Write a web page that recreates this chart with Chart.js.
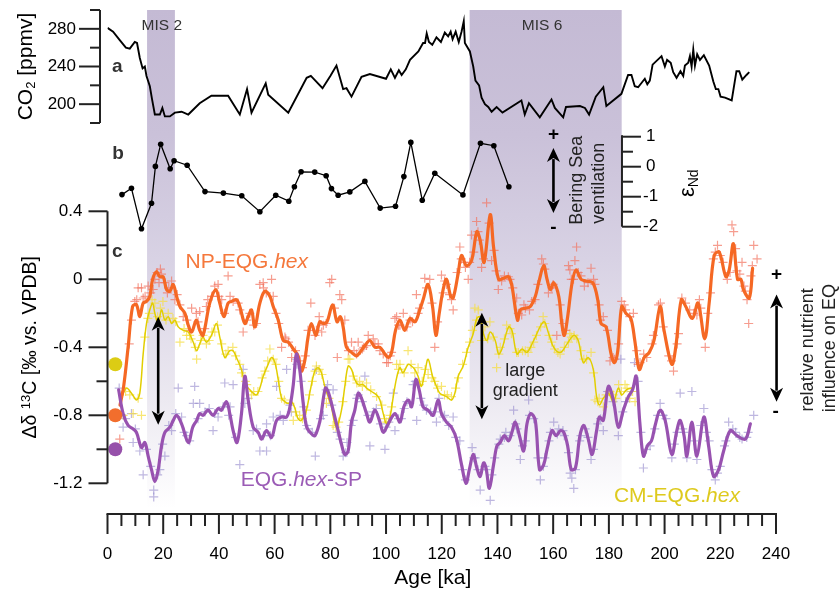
<!DOCTYPE html>
<html><head><meta charset="utf-8">
<script src="https://cdn.jsdelivr.net/npm/chart.js@4.4.1/dist/chart.umd.min.js"></script>
<style>html,body{margin:0;padding:0;background:#fff;}</style>
</head><body>
<canvas id="c" width="840" height="592"></canvas>
<script>
// ---------- DATA ----------
// Panel a: CO2 [ppmv] vs age [ka]
const co2 = [[0,281],[2,277],[4.4,268],[6.6,260],[8,259],[9.8,266],[10.6,265],[11.6,249],[12.6,238],[13.4,240],[14,230],[15.2,219],[16,205],[17,189],[18.8,189],[19.7,196],[20.6,187],[22.4,187],[24.2,191],[26.6,192],[29,189],[33.1,201],[37.3,209],[43.3,209],[47.5,189],[50.1,216],[51.7,191],[56.8,222],[57.7,210],[64.9,191],[71.5,228],[73,230],[77.2,217],[80,230],[82.2,241],[84.6,216],[85.8,217],[87.6,208],[91.2,229],[94.2,232],[100,227],[101.7,237],[103.2,228],[104.6,236],[105.6,231],[107.1,237],[108.6,247],[111.6,256],[113.3,265],[114,265],[114.6,275],[115.4,266],[116.6,263],[118.1,271],[119.7,266],[121.1,276],[122.3,272],[123.2,277],[123.9,269],[125,277],[126.1,266],[127.1,277],[127.9,288],[128.3,265],[130.1,256],[131.3,240],[132.1,225],[133.4,220],[134.3,207],[135.5,200],[136.7,197],[137.9,192],[139.7,197],[141.8,191],[148.6,204],[149.8,189],[151.3,201],[155.2,186],[159.4,205],[160.6,196],[163.6,186],[164.6,197],[169.6,198],[171.4,196],[172.9,189],[175.3,208],[178,218],[179.1,198],[184.5,211],[186.9,231],[188.1,231],[189.3,219],[190.5,218],[192.9,227],[193.8,221],[194.7,225],[195.7,242],[198.9,251],[200.1,240],[200.9,247],[202.2,244],[203.1,234],[204.3,228],[205.7,235],[206.7,230],[207.3,241],[208.5,244],[209.1,251],[209.7,240],[210.3,258],[210.9,241],[211.7,253],[212.7,247],[214.1,252],[216,241],[217.5,224],[218.4,216],[219.3,216],[220.1,208],[221.7,207],[224.1,204],[225.8,235],[226.8,235],[227.9,226],[229.4,231],[230.4,234]];
// Panel b: eps Nd
const epsNd = [[5.2,-0.93],[8.6,-0.72],[12.2,-2.07],[15.8,-1.22],[17.2,0.01],[19.1,0.75],[22.5,-0.07],[23.9,0.2],[28.6,0.05],[35.0,-0.83],[41.6,-0.88],[48.2,-0.97],[54.7,-1.5],[60.4,-0.95],[65.1,-1.15],[67.1,-0.67],[69.5,-0.17],[74.4,-0.18],[78.5,-0.3],[80.4,-0.73],[82.8,-0.95],[87.0,-0.84],[92.4,-0.49],[97.9,-1.38],[103.4,-1.32],[106.4,-0.33],[108.9,0.81],[113.0,-1.12],[117.5,-0.22],[127.6,-0.94],[133.9,0.78],[138.7,0.7],[144.1,-0.67]];
// Panel c: smoothed records
const npEqLine = [[4.5,-0.74],[5.8,-0.63],[7.4,-0.40],[9.0,-0.16],[10.4,-0.15],[11.6,-0.22],[12.8,-0.14],[14.0,-0.13],[15.2,-0.10],[16.2,0.00],[17.6,0.045],[18.8,0.015],[20.0,0.015],[21.2,-0.06],[22.4,-0.07],[23.6,-0.03],[24.8,-0.10],[26.0,-0.16],[27.8,-0.20],[29.0,-0.27],[30.2,-0.31],[31.9,-0.24],[33.1,-0.30],[34.3,-0.33],[36.7,-0.14],[38.9,-0.06],[40.3,-0.14],[41.8,-0.22],[43.3,-0.14],[44.5,-0.13],[46.3,-0.12],[47.5,-0.16],[49.3,-0.26],[50.5,-0.22],[51.7,-0.18],[52.9,-0.28],[54.7,-0.14],[56.5,-0.07],[58.3,-0.10],[59.5,-0.16],[61.3,-0.24],[63.1,-0.36],[64.9,-0.37],[66.7,-0.41],[68.4,-0.45],[69.6,-0.54],[70.8,-0.48],[72.0,-0.34],[73.2,-0.26],[74.8,-0.33],[76.2,-0.25],[77.4,-0.26],[78.8,-0.25],[80.8,-0.15],[82.4,-0.25],[83.6,-0.22],[84.6,-0.28],[85.8,-0.40],[87.6,-0.43],[89.4,-0.45],[90.6,-0.43],[92.4,-0.39],[94.2,-0.36],[96.0,-0.40],[97.8,-0.40],[99.6,-0.44],[100.8,-0.46],[102.0,-0.43],[103.4,-0.30],[105.0,-0.24],[106.7,-0.30],[108.6,-0.23],[110.4,-0.25],[112.1,-0.18],[113.3,-0.12],[115.1,-0.03],[116.7,-0.16],[117.9,-0.33],[119.1,-0.20],[120.5,-0.06],[121.7,0.00],[123.2,-0.10],[124.1,-0.11],[125.9,0.035],[127.1,0.14],[128.9,0.08],[130.7,0.11],[132.6,0.28],[133.8,0.23],[135.2,0.10],[137.4,0.38],[138.6,0.19],[140.4,0.00],[142.2,0.006],[144.0,0.015],[145.2,-0.04],[147.2,-0.24],[148.2,-0.18],[150.0,-0.17],[151.8,-0.16],[153.6,-0.10],[154.8,-0.02],[156.6,0.08],[157.8,0.00],[159.0,-0.06],[160.2,-0.02],[162.0,-0.10],[163.1,-0.26],[164.0,-0.33],[165.2,-0.22],[166.8,-0.02],[168.2,0.055],[170.0,0.00],[171.8,-0.01],[174.2,-0.02],[176.0,-0.12],[177.2,-0.26],[179.0,-0.28],[180.8,-0.44],[182.0,-0.49],[183.2,-0.42],[184.6,-0.16],[186.1,-0.20],[187.9,-0.23],[189.3,-0.36],[190.9,-0.53],[192.7,-0.46],[194.5,-0.43],[196.2,-0.36],[198.4,-0.16],[199.8,-0.30],[202.6,-0.50],[204.0,-0.40],[206.0,-0.12],[207.6,-0.16],[210.0,-0.23],[212.0,-0.14],[214.4,-0.35],[216.0,-0.14],[217.8,0.14],[219.6,0.16],[222.0,0.015],[223.2,0.055],[224.7,0.21],[226.2,0.00],[227.4,0.00],[228.3,-0.06],[230.4,-0.11],[231.6,0.065]];
const cmEqLine = [[4.6,-0.72],[5.0,-0.70],[6.8,-0.64],[8.6,-0.67],[10.4,-0.71],[11.6,-0.67],[12.8,-0.44],[14.0,-0.26],[15.2,-0.18],[16.2,-0.14],[17.0,-0.20],[18.2,-0.26],[19.4,-0.18],[20.6,-0.24],[21.8,-0.22],[23.0,-0.26],[24.2,-0.24],[25.4,-0.28],[27.2,-0.30],[29.0,-0.31],[30.8,-0.37],[32.0,-0.42],[33.1,-0.38],[34.3,-0.34],[35.5,-0.37],[37.3,-0.33],[39.1,-0.26],[40.3,-0.34],[42.1,-0.46],[43.9,-0.42],[45.1,-0.42],[46.3,-0.46],[48.1,-0.53],[49.3,-0.61],[51.1,-0.65],[52.3,-0.67],[53.5,-0.68],[54.7,-0.64],[55.9,-0.57],[57.7,-0.50],[58.9,-0.46],[60.1,-0.49],[61.3,-0.59],[62.5,-0.70],[63.7,-0.72],[64.9,-0.73],[66.1,-0.72],[67.3,-0.76],[68.4,-0.82],[69.6,-0.83],[71.4,-0.77],[72.6,-0.67],[74.4,-0.54],[75.6,-0.52],[76.8,-0.55],[78.0,-0.63],[79.2,-0.69],[80.4,-0.75],[81.6,-0.85],[82.4,-0.87],[84.0,-0.77],[85.2,-0.63],[86.4,-0.51],[87.6,-0.53],[88.8,-0.59],[90.0,-0.62],[91.8,-0.62],[93.0,-0.64],[94.8,-0.66],[96.6,-0.68],[97.8,-0.71],[99.0,-0.79],[100.2,-0.85],[101.4,-0.81],[102.6,-0.69],[103.8,-0.58],[105.0,-0.52],[106.1,-0.55],[107.9,-0.50],[109.1,-0.51],[110.3,-0.53],[111.5,-0.57],[112.7,-0.63],[113.9,-0.55],[115.1,-0.47],[116.7,-0.57],[118.1,-0.63],[119.3,-0.67],[121.7,-0.69],[123.5,-0.71],[124.7,-0.67],[125.9,-0.57],[127.7,-0.51],[129.5,-0.40],[131.3,-0.32],[132.6,-0.23],[133.8,-0.22],[135.0,-0.32],[136.2,-0.36],[137.4,-0.31],[139.2,-0.36],[140.4,-0.44],[141.6,-0.41],[144.0,-0.28],[145.2,-0.30],[147.0,-0.44],[148.8,-0.41],[150.6,-0.43],[153.0,-0.36],[156.6,-0.25],[158.4,-0.32],[160.2,-0.40],[162.6,-0.43],[165.0,-0.38],[167.4,-0.33],[169.0,-0.36],[170.8,-0.49],[172.6,-0.46],[174.4,-0.53],[175.6,-0.69],[176.6,-0.74],[178.0,-0.70],[179.8,-0.67],[181.6,-0.72],[183.4,-0.64],[184.6,-0.68],[186.3,-0.65],[188.1,-0.64]];
const eqSpLine = [[4.0,-0.65],[5.6,-0.79],[7.4,-0.86],[9.2,-0.88],[10.4,-0.90],[12.2,-0.99],[13.4,-0.96],[14.6,-1.04],[15.8,-1.12],[17.0,-1.19],[18.2,-1.12],[19.4,-0.98],[20.6,-0.90],[22.4,-0.87],[23.6,-0.83],[24.8,-0.80],[26.6,-0.85],[29.0,-0.96],[30.6,-0.87],[32.0,-0.83],[33.1,-0.79],[34.3,-0.80],[36.1,-0.77],[37.9,-0.80],[39.7,-0.76],[40.9,-0.77],[42.7,-0.72],[43.9,-0.79],[45.1,-0.89],[46.5,-0.96],[48.1,-0.79],[49.3,-0.57],[50.5,-0.71],[52.3,-0.87],[54.1,-0.90],[55.3,-0.94],[57.1,-0.89],[58.9,-0.93],[60.7,-0.83],[62.5,-0.81],[64.3,-0.81],[65.5,-0.75],[66.7,-0.62],[67.8,-0.44],[69.0,-0.53],[70.2,-0.72],[71.5,-0.87],[73.3,-0.91],[74.5,-0.92],[76.3,-0.83],[78.2,-0.64],[79.2,-0.66],[81.0,-0.77],[82.8,-0.89],[84.0,-0.97],[85.2,-1.03],[86.4,-1.01],[87.6,-0.84],[88.8,-0.77],[90.0,-0.67],[91.2,-0.70],[93.0,-0.79],[94.2,-0.84],[96.0,-0.77],[97.8,-0.84],[99.0,-0.90],[100.8,-0.85],[103.2,-0.79],[105.0,-0.84],[106.4,-0.75],[108.0,-0.71],[109.2,-0.75],[110.7,-0.59],[111.9,-0.65],[113.3,-0.75],[115.1,-0.77],[116.9,-0.80],[118.7,-0.71],[119.9,-0.79],[121.7,-0.84],[123.5,-0.87],[125.3,-0.94],[127.1,-1.09],[128.7,-1.20],[129.9,-1.12],[131.3,-1.03],[132.6,-1.11],[133.8,-1.16],[135.0,-1.08],[135.9,-1.11],[137.1,-1.23],[138.6,-1.09],[139.8,-0.98],[141.0,-0.96],[142.4,-0.92],[144.0,-0.95],[145.2,-0.90],[146.4,-0.84],[147.9,-0.92],[149.4,-1.01],[150.6,-0.85],[152.0,-0.79],[153.6,-0.83],[155.1,-1.12],[156.6,-1.09],[157.8,-1.00],[159.6,-0.89],[161.1,-0.92],[162.6,-0.89],[163.8,-0.90],[165.2,-0.98],[166.5,-1.12],[168.0,-1.11],[169.6,-0.92],[171.0,-0.86],[172.6,-0.94],[174.0,-1.03],[175.6,-0.89],[176.6,-0.81],[178.0,-0.83],[179.8,-0.63],[181.6,-0.71],[183.4,-0.87],[185.2,-0.77],[187.0,-0.69],[188.5,-0.65],[189.8,-0.57],[191.1,-0.84],[192.4,-1.04],[193.8,-0.98],[195.3,-0.95],[196.6,-0.86],[198.4,-0.77],[200.2,-0.83],[202.6,-1.03],[204.4,-0.89],[205.6,-0.83],[207.0,-0.92],[208.0,-1.04],[209.8,-0.84],[211.6,-1.04],[214.1,-0.81],[215.8,-0.98],[217.6,-1.16],[219.4,-1.12],[221.2,-1.01],[223.6,-0.89],[226.0,-0.92],[229.0,-0.94],[230.8,-0.85]];
// Panel c: individual measurements
const npEqPts = [[4.4,-0.94],[7.8,-0.38],[8.6,-0.24],[9.8,-0.13],[10.5,-0.12],[11.0,-0.05],[12.2,-0.05],[12.8,-0.11],[13.5,-0.10],[14.6,-0.04],[15.5,-0.08],[16.4,-0.06],[17.0,0.0],[17.8,0.04],[18.5,-0.02],[19.0,0.06],[19.4,0.03],[20.6,-0.02],[21.5,-0.08],[22.0,-0.05],[23.0,-0.01],[24.2,-0.12],[25.0,-0.09],[26.0,-0.15],[27.2,-0.22],[28.5,-0.24],[29.5,-0.30],[30.2,-0.17],[31.9,-0.20],[32.5,-0.25],[33.1,-0.19],[34.9,-0.29],[35.5,-0.16],[36.0,-0.12],[37.5,-0.10],[38.5,-0.04],[39.7,-0.03],[40.0,-0.10],[41.0,-0.12],[42.0,-0.20],[43.3,0.02],[44.0,-0.10],[45.1,-0.13],[46.9,-0.14],[47.5,-0.18],[48.7,-0.31],[50.0,-0.24],[51.1,-0.20],[52.5,-0.27],[53.5,-0.26],[54.7,-0.03],[55.9,-0.02],[56.0,-0.05],[57.0,-0.08],[58.9,0.0],[59.5,-0.10],[60.5,-0.20],[61.5,-0.26],[62.5,-0.40],[63.7,-0.34],[64.0,-0.35],[65.0,-0.37],[66.1,-0.46],[67.5,-0.42],[69.1,-0.48],[70.0,-0.52],[71.0,-0.45],[72.0,-0.30],[73.0,-0.14],[74.5,-0.33],[75.0,-0.30],[76.0,-0.22],[76.9,-0.31],[77.5,-0.27],[78.5,-0.26],[79.8,-0.02],[80.5,0.0],[81.5,-0.17],[82.5,-0.46],[83.4,-0.09],[84.1,-0.12],[85.2,-0.24],[86.5,-0.42],[87.6,-0.37],[88.5,-0.42],[89.4,-0.44],[90.0,-0.37],[91.5,-0.41],[92.0,-0.40],[93.0,-0.39],[93.6,-0.33],[95.4,-0.35],[96.0,-0.38],[97.2,-0.38],[97.8,-0.42],[99.0,-0.44],[100.2,-0.49],[100.8,-0.49],[101.5,-0.45],[102.0,-0.43],[103.2,-0.23],[103.8,-0.22],[104.5,-0.27],[105.0,-0.27],[106.2,-0.20],[107.5,-0.28],[108.6,-0.24],[109.5,-0.25],[110.9,-0.09],[111.5,-0.20],[112.0,-0.17],[113.9,0.006],[114.5,-0.05],[115.7,0.0],[116.5,-0.14],[117.5,-0.40],[118.5,-0.25],[119.9,0.025],[120.5,-0.08],[121.0,-0.01],[121.7,-0.03],[122.8,-0.09],[123.5,-0.12],[124.1,-0.18],[125.5,0.04],[126.5,0.19],[127.0,0.12],[128.0,0.10],[128.5,0.07],[129.5,0.0],[130.0,0.10],[130.7,0.26],[131.5,0.16],[132.5,0.34],[133.0,0.28],[133.5,0.23],[134.3,0.07],[135.0,0.12],[136.1,0.45],[137.0,0.33],[137.9,0.11],[138.8,0.17],[139.5,0.05],[140.3,-0.06],[141.5,-0.01],[142.5,0.02],[143.9,0.015],[144.5,0.0],[145.5,-0.05],[146.9,-0.11],[147.5,-0.20],[148.7,-0.21],[149.5,-0.15],[150.0,-0.17],[151.5,-0.18],[152.3,-0.13],[153.5,-0.12],[154.5,-0.03],[155.9,0.12],[156.5,0.09],[157.0,0.06],[158.3,-0.08],[159.5,-0.05],[160.0,-0.03],[161.3,-0.33],[162.5,-0.15],[163.5,-0.26],[164.5,-0.30],[165.5,0.08],[166.0,0.055],[166.5,0.00],[167.3,0.0],[167.8,0.11],[168.4,0.19],[169.0,0.04],[170.0,0.02],[171.2,-0.04],[172.5,-0.02],[173.6,0.065],[174.5,0.00],[175.0,-0.03],[176.5,-0.15],[177.0,-0.24],[178.0,-0.22],[179.5,-0.30],[180.4,-0.48],[181.5,-0.46],[182.0,-0.47],[183.5,-0.38],[184.6,-0.13],[185.5,-0.15],[186.0,-0.18],[187.5,-0.22],[188.8,-0.20],[190.0,-0.42],[190.5,-0.50],[191.2,-0.49],[192.5,-0.44],[193.6,-0.46],[195.5,-0.38],[196.0,-0.33],[197.8,-0.15],[198.5,-0.14],[199.5,-0.28],[201.5,-0.45],[202.5,-0.48],[203.2,-0.54],[204.5,-0.38],[205.0,-0.32],[206.2,-0.11],[207.5,-0.14],[209.0,-0.18],[210.5,-0.20],[211.6,-0.21],[212.5,-0.12],[213.0,-0.17],[214.6,-0.40],[215.5,-0.20],[216.5,-0.08],[217.5,0.12],[218.2,0.16],[219.0,0.20],[220.0,0.14],[221.0,0.10],[222.5,0.00],[223.5,0.04],[224.2,0.32],[224.8,0.28],[225.5,0.18],[226.0,0.05],[227.0,0.03],[227.8,0.10],[228.5,-0.04],[229.0,-0.07],[229.6,-0.12],[230.2,-0.26],[231.0,0.02],[231.5,0.08],[232.0,0.20],[233.2,0.12]];
const cmEqPts = [[5.6,-0.80],[6.5,-0.66],[8.0,-0.68],[9.2,-0.79],[11.0,-0.70],[12.2,-0.80],[13.4,-0.34],[14.5,-0.23],[15.0,-0.20],[16.0,-0.12],[17.0,-0.14],[18.0,-0.22],[19.0,-0.17],[19.9,-0.13],[21.0,-0.24],[21.8,-0.20],[23.5,-0.23],[24.5,-0.25],[26.0,-0.37],[27.5,-0.29],[28.4,-0.33],[29.5,-0.33],[30.0,-0.35],[31.5,-0.40],[32.0,-0.47],[33.5,-0.36],[34.3,-0.33],[35.5,-0.38],[36.5,-0.36],[37.5,-0.31],[38.5,-0.31],[39.5,-0.27],[41.0,-0.38],[42.5,-0.44],[43.3,-0.42],[45.0,-0.40],[46.0,-0.45],[47.5,-0.50],[48.1,-0.55],[49.5,-0.60],[50.0,-0.62],[51.7,-0.68],[52.5,-0.66],[54.0,-0.66],[55.5,-0.58],[56.5,-0.54],[57.5,-0.48],[58.3,-0.41],[59.5,-0.47],[60.5,-0.50],[61.5,-0.60],[62.5,-0.70],[63.5,-0.71],[65.5,-0.73],[66.7,-0.83],[67.5,-0.78],[69.0,-0.80],[70.0,-0.82],[71.4,-0.77],[72.5,-0.68],[73.5,-0.60],[74.5,-0.54],[75.0,-0.51],[76.0,-0.53],[77.0,-0.56],[78.6,-0.73],[79.5,-0.70],[81.0,-0.86],[82.0,-0.87],[83.0,-0.84],[84.5,-0.72],[85.5,-0.60],[86.4,-0.47],[87.0,-0.47],[88.2,-0.57],[89.5,-0.61],[90.5,-0.60],[91.5,-0.63],[93.0,-0.61],[94.5,-0.65],[96.6,-0.69],[98.5,-0.74],[99.5,-0.82],[100.2,-0.84],[101.5,-0.80],[102.0,-0.75],[103.8,-0.50],[104.5,-0.53],[105.0,-0.50],[106.5,-0.55],[107.9,-0.42],[109.0,-0.50],[110.3,-0.55],[111.5,-0.52],[112.0,-0.62],[113.0,-0.60],[114.0,-0.53],[115.1,-0.56],[116.5,-0.58],[117.5,-0.60],[118.5,-0.64],[119.9,-0.63],[121.0,-0.68],[122.0,-0.68],[123.5,-0.69],[125.0,-0.64],[126.0,-0.58],[127.5,-0.50],[128.9,-0.43],[130.0,-0.37],[131.0,-0.30],[131.9,-0.17],[132.5,-0.24],[133.1,-0.18],[134.0,-0.24],[134.3,-0.36],[135.5,-0.28],[136.5,-0.35],[137.3,-0.25],[138.5,-0.34],[139.7,-0.52],[140.5,-0.44],[141.0,-0.40],[142.5,-0.35],[143.3,-0.27],[144.5,-0.29],[145.0,-0.32],[146.9,-0.43],[147.5,-0.43],[149.0,-0.42],[150.0,-0.42],[151.0,-0.43],[152.0,-0.40],[153.0,-0.37],[154.0,-0.33],[155.5,-0.28],[156.4,-0.22],[157.0,-0.26],[158.5,-0.33],[159.5,-0.37],[160.5,-0.41],[161.7,-0.43],[162.5,-0.44],[164.0,-0.40],[165.5,-0.37],[166.0,-0.32],[166.5,-0.34],[167.5,-0.33],[168.5,-0.35],[170.0,-0.42],[171.0,-0.47],[172.0,-0.47],[173.6,-0.43],[174.5,-0.55],[175.0,-0.71],[176.0,-0.72],[176.5,-0.70],[178.0,-0.75],[179.0,-0.68],[180.4,-0.66],[181.6,-0.68],[182.5,-0.70],[183.5,-0.62],[184.5,-0.66],[185.8,-0.62],[186.5,-0.64],[187.5,-0.70],[188.5,-0.66],[189.4,-0.72]];
const eqSpPts = [[4.2,-0.64],[5.6,-0.87],[6.5,-0.82],[8.6,-0.79],[9.2,-0.96],[10.0,-0.88],[11.6,-1.01],[12.8,-1.15],[14.0,-1.00],[15.5,-1.10],[16.6,-1.24],[16.6,-1.28],[18.0,-1.15],[18.8,-1.12],[19.8,-0.97],[20.6,-1.04],[22.0,-0.86],[23.0,-0.89],[24.5,-0.79],[25.4,-0.64],[26.6,-0.81],[27.5,-0.90],[28.4,-0.92],[29.5,-0.95],[30.8,-0.73],[31.3,-0.63],[32.5,-0.82],[33.1,-0.73],[35.0,-0.78],[36.5,-0.76],[37.9,-0.89],[38.5,-0.79],[39.7,-0.81],[41.5,-0.75],[42.1,-0.61],[43.5,-0.80],[44.0,-0.75],[45.1,-0.62],[46.0,-0.93],[47.5,-1.09],[48.7,-0.53],[49.3,-0.73],[50.5,-0.70],[52.3,-0.89],[53.5,-0.88],[54.7,-1.01],[56.0,-0.92],[57.1,-0.85],[57.1,-1.01],[58.5,-0.92],[59.5,-0.81],[60.7,-0.63],[62.0,-0.80],[63.1,-0.83],[64.3,-0.53],[65.5,-0.74],[66.0,-0.78],[67.5,-0.47],[68.0,-0.50],[69.5,-0.60],[70.5,-0.75],[71.5,-0.86],[72.0,-0.88],[73.5,-0.90],[74.6,-1.04],[75.0,-0.53],[76.5,-0.82],[77.5,-0.80],[78.5,-0.65],[79.0,-0.62],[80.5,-0.74],[81.0,-0.65],[82.5,-0.90],[83.5,-0.94],[84.6,-1.04],[85.5,-1.02],[86.0,-0.96],[87.5,-0.86],[88.2,-0.83],[89.5,-0.70],[90.0,-0.68],[91.5,-0.72],[92.4,-0.57],[93.5,-0.80],[94.2,-0.98],[95.5,-0.78],[96.5,-0.76],[98.0,-0.85],[99.6,-1.00],[100.0,-0.87],[101.0,-0.84],[102.6,-0.67],[103.2,-0.89],[104.5,-0.82],[105.5,-0.82],[106.5,-0.76],[107.5,-0.72],[108.5,-0.73],[109.7,-0.62],[110.5,-0.60],[111.0,-0.83],[112.5,-0.70],[113.5,-0.74],[114.5,-0.77],[116.0,-0.78],[117.5,-0.78],[118.1,-0.84],[119.0,-0.70],[120.5,-0.81],[121.0,-0.80],[122.5,-0.86],[124.1,-0.81],[125.0,-0.93],[126.5,-0.95],[127.5,-1.12],[128.5,-1.18],[129.7,-1.43],[130.9,-0.99],[131.5,-1.05],[132.0,-1.05],[133.0,-1.12],[133.8,-1.24],[135.5,-1.10],[136.0,-1.12],[137.4,-1.30],[138.0,-1.15],[139.0,-1.05],[140.5,-0.97],[141.0,-0.94],[142.5,-0.93],[143.0,-0.90],[144.5,-0.92],[145.8,-0.77],[146.5,-0.85],[147.0,-0.88],[148.2,-1.06],[149.0,-0.98],[150.0,-0.95],[151.2,-0.71],[151.5,-0.80],[153.0,-0.82],[154.5,-1.05],[155.4,-1.18],[156.5,-1.10],[157.0,-1.05],[158.5,-0.95],[159.0,-0.90],[160.2,-0.84],[161.5,-0.91],[162.0,-0.88],[163.5,-0.89],[164.0,-0.92],[165.5,-1.02],[166.1,-1.14],[166.7,-1.17],[167.4,-1.23],[168.0,-1.12],[169.5,-0.95],[170.0,-0.92],[171.5,-0.88],[172.5,-0.93],[173.6,-1.06],[174.5,-1.00],[176.0,-0.85],[177.0,-0.82],[178.0,-0.89],[179.5,-0.66],[180.0,-0.66],[181.5,-0.72],[183.4,-0.92],[184.3,-0.47],[185.0,-0.78],[186.0,-0.72],[188.0,-0.66],[189.2,-0.49],[190.5,-0.60],[191.5,-0.90],[192.4,-1.11],[193.5,-1.00],[194.8,-0.98],[196.5,-0.88],[197.5,-0.80],[198.4,-0.73],[199.5,-0.80],[200.5,-0.82],[202.6,-1.05],[203.5,-0.97],[204.5,-0.90],[205.6,-0.67],[206.5,-0.88],[207.0,-0.90],[208.0,-1.05],[209.8,-0.66],[210.5,-0.95],[211.6,-1.06],[213.0,-0.86],[214.1,-0.76],[215.0,-0.90],[216.0,-0.95],[217.0,-1.12],[218.2,-1.18],[219.0,-1.14],[220.0,-1.10],[221.5,-0.98],[222.0,-0.95],[223.0,-0.84],[224.5,-0.88],[225.5,-0.90],[227.0,-0.93],[227.8,-0.94],[229.5,-0.93],[230.0,-0.90],[232.0,-0.80]];
// modern (core-top) reference values
const modernAge = [2.8, 2.8, 2.8];
const modernVal = [-0.50, -0.80, -1.00];
// Marine isotope stages
const misStart = [14.2, 130.0];
const misEnd = [24.2, 184.6];
const misLabel = ['MIS 2', 'MIS 6'];
const misLabelAge = [19.5, 156];
// tick values
const ageTicks = Array.from({length:49},(_,i)=>i*5);
const ageLabels = [0,20,40,60,80,100,120,140,160,180,200,220,240];
const co2Ticks = [180,200,220,240,260,280,300];
const co2Labels = [200,240,280];
const ndTicks = [-2,-1.5,-1,-0.5,0,0.5,1];
const ndLabels = [-2,-1,0,1];
const d13Ticks = [-1.2,-1.0,-0.8,-0.6,-0.4,-0.2,0,0.2,0.4];
const d13Labels = [-1.2,-0.8,-0.4,0,0.4];

// ---------- STYLE ----------
const F = '"Liberation Sans", Arial, Helvetica, sans-serif';
const C_OR = 'rgb(245,104,36)', C_PU = 'rgb(152,82,176)', C_YE = 'rgb(226,206,0)';
const T_OR = 'rgb(245,120,60)', T_PU = 'rgb(155,92,182)', T_YE = 'rgb(222,202,30)';
const xy = a => a.map(p => ({x:p[0], y:p[1]}));

function rich(ctx, parts, x, y, rot, color, align) {
  ctx.save(); ctx.translate(x, y); if (rot) ctx.rotate(rot);
  ctx.textBaseline = 'middle'; ctx.textAlign = 'left';
  let w = 0; parts.forEach(p => { ctx.font = p.f; w += ctx.measureText(p.t).width; });
  let cx = align === 'left' ? 0 : -w / 2;
  parts.forEach(p => { ctx.font = p.f; ctx.fillStyle = p.c || color; ctx.fillText(p.t, cx, p.dy || 0); cx += ctx.measureText(p.t).width; });
  ctx.restore();
}
function dArrow(ctx, x, y1, y2) {
  const hw = 6.5, hl = 14;
  ctx.save(); ctx.strokeStyle = '#000'; ctx.fillStyle = '#000'; ctx.lineWidth = 2.6;
  ctx.beginPath(); ctx.moveTo(x, y1 + hl - 3); ctx.lineTo(x, y2 - hl + 3); ctx.stroke();
  ctx.beginPath(); ctx.moveTo(x, y1); ctx.lineTo(x + hw, y1 + hl); ctx.lineTo(x, y1 + hl - 4); ctx.lineTo(x - hw, y1 + hl); ctx.closePath(); ctx.fill();
  ctx.beginPath(); ctx.moveTo(x, y2); ctx.lineTo(x + hw, y2 - hl); ctx.lineTo(x, y2 - hl + 4); ctx.lineTo(x - hw, y2 - hl); ctx.closePath(); ctx.fill();
  ctx.restore();
}

const shadePlugin = {
  id: 'shade',
  beforeDatasetsDraw(chart) {
    const {ctx, scales:{x, yC}} = chart;
    const top = chart.chartArea.top, bot = yC.getPixelForValue(-1.35);
    const g = ctx.createLinearGradient(0, top, 0, bot);
    g.addColorStop(0, 'rgb(196,186,212)');
    g.addColorStop(0.25, 'rgb(202,193,217)');
    g.addColorStop(0.5, 'rgb(216,210,228)');
    g.addColorStop(0.78, 'rgb(236,233,241)');
    g.addColorStop(1, 'rgba(255,255,255,1)');
    ctx.save(); ctx.fillStyle = g;
    for (let i = 0; i < misStart.length; i++) {
      const a = x.getPixelForValue(misStart[i]), b = x.getPixelForValue(misEnd[i]);
      ctx.fillRect(a, top, b - a, bot - top);
    }
    ctx.fillStyle = '#333'; ctx.font = '15.5px ' + F; ctx.textAlign = 'center'; ctx.textBaseline = 'middle';
    for (let i = 0; i < misLabel.length; i++) ctx.fillText(misLabel[i], x.getPixelForValue(misLabelAge[i]), top + 16);
    ctx.restore();
  }
};

const axesPlugin = {
  id: 'axes',
  afterDraw(chart) {
    const {ctx, scales:{x, yA, yB, yC}} = chart;
    ctx.save();
    ctx.strokeStyle = '#222'; ctx.fillStyle = '#000'; ctx.lineWidth = 2; ctx.lineCap = 'butt';
    // --- x axis
    const xb = yC.getPixelForValue(-1.3806) ;
    const x0 = x.getPixelForValue(0), x1 = x.getPixelForValue(240);
    ctx.beginPath(); ctx.moveTo(x0 - 1, xb); ctx.lineTo(x1 + 1, xb); ctx.stroke();
    ctx.font = '17px ' + F; ctx.textAlign = 'center'; ctx.textBaseline = 'middle';
    ageTicks.forEach(t => {
      const px = x.getPixelForValue(t); const major = ageLabels.includes(t);
      ctx.beginPath(); ctx.moveTo(px, xb); ctx.lineTo(px, xb + (major ? 20 : 12)); ctx.stroke();
      if (major) ctx.fillText(String(t), px, xb + 40);
    });
    ctx.font = '21px ' + F; ctx.fillText('Age [ka]', (x0 + x1) / 2 - 9, xb + 64);
    // --- panel c left axis
    const cx = x0;
    ctx.beginPath(); ctx.moveTo(cx, yC.getPixelForValue(0.4)); ctx.lineTo(cx, yC.getPixelForValue(-1.2)); ctx.stroke();
    ctx.font = '17px ' + F; ctx.textAlign = 'right';
    d13Ticks.forEach(t => {
      const py = yC.getPixelForValue(t); const major = d13Labels.some(v => Math.abs(v - t) < 1e-6);
      ctx.beginPath(); ctx.moveTo(cx, py); ctx.lineTo(cx - (major ? 19 : 11), py); ctx.stroke();
      if (major) ctx.fillText(Math.abs(t) < 1e-9 ? '0' : String(t), cx - 25, py);
    });
    // --- panel a left axis
    const ax = x0 - 7.5;
    ctx.beginPath(); ctx.moveTo(ax, yA.getPixelForValue(300)); ctx.lineTo(ax, yA.getPixelForValue(180)); ctx.stroke();
    co2Ticks.forEach(t => {
      const py = yA.getPixelForValue(t); const major = co2Labels.includes(t);
      ctx.beginPath(); ctx.moveTo(ax, py); ctx.lineTo(ax - (major ? 21 : 10), py); ctx.stroke();
      if (major) ctx.fillText(String(t), ax - 24, py);
    });
    // --- panel b right axis
    const bx = x.getPixelForValue(184.7);
    ctx.beginPath(); ctx.moveTo(bx, yB.getPixelForValue(1.05)); ctx.lineTo(bx, yB.getPixelForValue(-2)); ctx.stroke();
    ctx.textAlign = 'left';
    ndTicks.forEach(t => {
      const py = yB.getPixelForValue(t); const major = ndLabels.includes(t);
      ctx.beginPath(); ctx.moveTo(bx, py); ctx.lineTo(bx + (major ? 19 : 11), py); ctx.stroke();
      if (major) ctx.fillText(String(t), bx + (t < 0 ? 21 : 24), py);
    });
    // --- axis titles
    rich(ctx, [{t:'CO', f:'21px ' + F}, {t:'2', f:'13px ' + F, dy:5}, {t:' [ppmv]', f:'21px ' + F}], 26, yA.getPixelForValue(240), -Math.PI/2, '#000');
    rich(ctx, [{t:'Δδ ', f:'19.5px ' + F}, {t:'13', f:'13px ' + F, dy:-5}, {t:'C [‰ vs. VPDB]', f:'19.5px ' + F}], 31, yC.getPixelForValue(-0.4), -Math.PI/2, '#000');
    rich(ctx, [{t:'ε', f:'22px ' + F}, {t:'Nd', f:'14px ' + F, dy:6}], bx + 66, yB.getPixelForValue(-0.55), -Math.PI/2, '#000');
    // --- panel letters
    ctx.font = 'bold 19px ' + F; ctx.textAlign = 'center'; ctx.fillStyle = '#333';
    ctx.fillText('a', x.getPixelForValue(3.5), yA.getPixelForValue(240));
    ctx.fillText('b', x.getPixelForValue(3.8), yB.getPixelForValue(0.42));
    ctx.fillText('c', x.getPixelForValue(3.5), yC.getPixelForValue(0.16));
    // --- series labels
    const it = f => 'italic ' + f;
    rich(ctx, [{t:'NP-EQ', f:'21px ' + F}, {t:'G.', f:'21px ' + F}, {t:'hex', f:it('21px ' + F)}], x.getPixelForValue(28), yC.getPixelForValue(0.103), 0, T_OR, 'left');
    rich(ctx, [{t:'EQ', f:'21px ' + F}, {t:'G.', f:'21px ' + F}, {t:'hex', f:it('21px ' + F)}, {t:'-SP', f:'21px ' + F}], x.getPixelForValue(47.8), yC.getPixelForValue(-1.18), 0, T_PU, 'left');
    rich(ctx, [{t:'CM-EQ', f:'21px ' + F}, {t:'G.', f:'21px ' + F}, {t:'hex', f:it('21px ' + F)}], x.getPixelForValue(181.8), yC.getPixelForValue(-1.278), 0, T_YE, 'left');
    // --- arrows and annotations
    dArrow(ctx, x.getPixelForValue(18.2), yC.getPixelForValue(-0.22), yC.getPixelForValue(-0.855));
    dArrow(ctx, x.getPixelForValue(134.4), yC.getPixelForValue(-0.197), yC.getPixelForValue(-0.823));
    ctx.fillStyle = '#222'; ctx.font = '18px ' + F; ctx.textAlign = 'center';
    ctx.fillText('large', x.getPixelForValue(150), yC.getPixelForValue(-0.54));
    ctx.fillText('gradient', x.getPixelForValue(150), yC.getPixelForValue(-0.655));
    // Bering Sea
    const bsx = x.getPixelForValue(160.1);
    dArrow(ctx, bsx, yB.getPixelForValue(0.62), yB.getPixelForValue(-1.54));
    ctx.fillStyle = '#000'; ctx.font = 'bold 19px ' + F; ctx.textAlign = 'center';
    ctx.fillText('+', bsx, yB.getPixelForValue(1.07));
    ctx.fillText('-', bsx, yB.getPixelForValue(-2.03));
    rich(ctx, [{t:'Bering Sea', f:'18px ' + F}], x.getPixelForValue(168.4), yB.getPixelForValue(-0.45), -Math.PI/2, '#222');
    rich(ctx, [{t:'ventilation', f:'18px ' + F}], x.getPixelForValue(176.6), yB.getPixelForValue(-0.55), -Math.PI/2, '#222');
    // relative nutrient influence
    const rx = x.getPixelForValue(240.2);
    dArrow(ctx, rx, yC.getPixelForValue(-0.09), yC.getPixelForValue(-0.72));
    ctx.fillStyle = '#000'; ctx.font = 'bold 19px ' + F;
    ctx.fillText('+', rx, yC.getPixelForValue(0.027));
    ctx.fillText('-', rx - 1, yC.getPixelForValue(-0.78));
    rich(ctx, [{t:'relative nutrient', f:'18px ' + F}], 808, yC.getPixelForValue(-0.415), -Math.PI/2, '#222');
    rich(ctx, [{t:'influence on EQ', f:'18px ' + F}], 830, yC.getPixelForValue(-0.405), -Math.PI/2, '#222');
    ctx.restore();
  }
};

const crossDs = (data, color, order, clip) => ({
  data: xy(data), yAxisID: 'yC', showLine: false, pointStyle: 'cross', pointRadius: 4.5,
  pointBorderWidth: 1.2, borderColor: color, backgroundColor: color, pointHoverRadius: 0, order, clip: clip ? false : undefined
});
const lineDs = (data, color, w, order) => ({
  data: xy(data), yAxisID: 'yC', borderColor: color, borderWidth: w, pointRadius: 0, pointHoverRadius: 0,
  tension: 0.35, fill: false, order, borderJoinStyle: 'round', borderCapStyle: 'round'
});

new Chart(document.getElementById('c'), {
  type: 'line',
  data: { datasets: [
    lineDs(eqSpLine, C_PU, 3.2, 1),
    lineDs(npEqLine, C_OR, 3.2, 2),
    lineDs(cmEqLine, C_YE, 1.5, 3),
    crossDs(npEqPts, 'rgba(242,115,95,0.7)', 5),
    crossDs(cmEqPts, 'rgba(246,222,70,0.75)', 6),
    crossDs(eqSpPts, 'rgba(150,138,205,0.62)', 7, true),
    { data: xy(co2), yAxisID: 'yA', borderColor: '#000', borderWidth: 1.9, pointRadius: 0, tension: 0, fill: false, order: 4 },
    { data: xy(epsNd), yAxisID: 'yB', borderColor: '#000', borderWidth: 1.3, pointRadius: 2.8, pointBackgroundColor: '#000', pointBorderColor: '#000', pointBorderWidth: 0, tension: 0, fill: false, order: 4 },
    { data: modernAge.map((a, i) => ({x: a, y: modernVal[i]})), yAxisID: 'yC', showLine: false, pointRadius: 7,
      pointBackgroundColor: ['rgb(220,204,20)', 'rgb(242,110,45)', 'rgb(150,80,170)'], pointBorderWidth: 0, order: 0, clip: false }
  ]},
  options: {
    responsive: false, animation: false, devicePixelRatio: 1,
    layout: { padding: { left: 107.5, right: 64, top: 10, bottom: 78 } },
    plugins: { legend: { display: false }, tooltip: { enabled: false } },
    events: [],
    scales: {
      x: { type: 'linear', min: 0, max: 240, display: false },
      yA: { type: 'linear', min: -235.2, max: 300, display: false },
      yB: { type: 'linear', min: -11.5767, max: 5.2233, display: false },
      yC: { type: 'linear', min: -1.3806, max: 1.5841, display: false }
    }
  },
  plugins: [shadePlugin, axesPlugin]
});
</script>
</body></html>
